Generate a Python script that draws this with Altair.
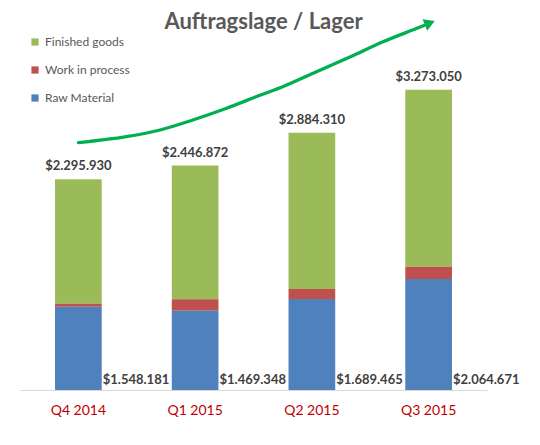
import altair as alt
import pandas as pd

# ================== DATA ==================

quarters = ["Q4 2014", "Q1 2015", "Q2 2015", "Q3 2015"]
series = ["Finished goods", "Work in process", "Raw Material"]
series_colors = ["#9BBB59", "#C0504D", "#4F81BD"]
stack_rank = [2, 1, 0]  # raw material sits on the baseline

raw_material = [908000, 864000, 992000, 1210000]
work_in_process = [33000, 124000, 109000, 134000]
finished_goods = [1355000, 1459000, 1704000, 1929000]

total_labels = [2295930, 2446872, 2884310, 3273050]
raw_labels = [1548181, 1469348, 1689465, 2064671]

# trend arrow, x in quarter units (0 = first bar centre), y in dollars
trend_x = [0.0, 0.41, 0.70, 0.98, 1.27, 1.56, 1.75, 2.04, 2.33, 2.61, 2.90, 2.96]
trend_y = [2695600, 2761000, 2834000, 2943000, 3070500, 3215500,
           3306000, 3469500, 3633000, 3796500, 3942500, 3973000]
arrow_tip_x = [3.01]
arrow_tip_y = [4000000]

# ================== STYLES ==================

FONT = "Lato"
TEXT_DARK = "#404040"
TEXT_GREY = "#595959"
TREND_GREEN = "#00B050"
Y_MAX = 3815000


def money(v):
    return "$" + f"{v:,}".replace(",", ".")


# ================== TABLES ==================

rows = []
for i, q in enumerate(quarters):
    for name, rank, values in zip(series, stack_rank,
                                  [finished_goods, work_in_process, raw_material]):
        rows.append({"quarter": q, "series": name, "rank": rank, "value": values[i]})
bars_df = pd.DataFrame(rows)

labels_df = pd.DataFrame({
    "quarter": quarters,
    "total": [a + b + c for a, b, c in zip(raw_material, work_in_process, finished_goods)],
    "total_text": [money(v) for v in total_labels],
    "raw_text": [money(v) for v in raw_labels],
})

trend_df = pd.DataFrame({"u": trend_x, "v": trend_y})
tip_df = pd.DataFrame({"u": arrow_tip_x, "v": arrow_tip_y})

# ================== CHART ==================

x_band = alt.X(
    "quarter:N",
    sort=quarters,
    title=None,
    scale=alt.Scale(paddingInner=0.6, paddingOuter=0.3),
    axis=alt.Axis(
        labelAngle=0,
        labelFont=FONT,
        labelFontSize=14,
        labelColor="#C00000",
        labelPadding=13,
        ticks=False,
        domainColor="#D9D9D9",
        domainWidth=1.2,
        grid=False,
    ),
)
y_scale = alt.Scale(domain=[0, Y_MAX], nice=False, zero=True)
u_scale = alt.Scale(domain=[-0.5, 3.5], nice=False, zero=False)

bars = (
    alt.Chart(bars_df)
    .mark_bar()
    .encode(
        x=x_band,
        y=alt.Y("value:Q", stack="zero", scale=y_scale, axis=None),
        color=alt.Color(
            "series:N",
            scale=alt.Scale(domain=series, range=series_colors),
            legend=alt.Legend(
                title=None,
                orient="none",
                legendX=9,
                legendY=-4,
                symbolType="square",
                symbolSize=52,
                symbolStrokeWidth=0,
                labelFont=FONT,
                labelFontSize=12,
                labelColor=TEXT_GREY,
                labelOffset=4,
                rowPadding=16,
                padding=0,
            ),
        ),
        order=alt.Order("rank:Q", sort="ascending"),
    )
)

total_text = (
    alt.Chart(labels_df)
    .mark_text(font=FONT, fontSize=13, fontWeight="bold", color=TEXT_DARK,
               baseline="bottom", dy=-6)
    .encode(
        x=alt.X("quarter:N", sort=quarters),
        y=alt.Y("total:Q", scale=y_scale),
        text="total_text:N",
    )
)

raw_text = (
    alt.Chart(labels_df)
    .mark_text(font=FONT, fontSize=13, fontWeight="bold", color=TEXT_DARK,
               align="left", baseline="bottom", dx=1, dy=-3)
    .encode(
        x=alt.X("quarter:N", sort=quarters, bandPosition=1),
        y=alt.YDatum(0),
        text="raw_text:N",
    )
)

trend_line = (
    alt.Chart(trend_df)
    .mark_line(color=TREND_GREEN, strokeWidth=3.3, interpolate="monotone", strokeCap="round")
    .encode(
        x=alt.X("u:Q", scale=u_scale, axis=None),
        y=alt.Y("v:Q", scale=y_scale),
    )
)

trend_tip = (
    alt.Chart(tip_df)
    .mark_point(shape="triangle-right", filled=True, color=TREND_GREEN, opacity=1,
                size=150, angle=338)
    .encode(
        x=alt.X("u:Q", scale=u_scale, axis=None),
        y=alt.Y("v:Q", scale=y_scale),
    )
)

bar_layer = alt.layer(bars, total_text, raw_text)
arrow_layer = alt.layer(trend_line, trend_tip)

chart = (
    alt.layer(bar_layer, arrow_layer)
    .resolve_scale(x="independent")
    .properties(
        width=467,
        height=350,
        autosize=alt.AutoSizeParams(type="none"),
        padding={"left": 12, "top": 32, "right": 45, "bottom": 47},
        title=alt.TitleParams(
            "Auftragslage / Lager",
            font=FONT,
            fontSize=22,
            fontWeight="bold",
            color=TEXT_GREY,
            anchor="middle",
            dx=10,
            offset=-15,
        ),
    )
    .configure(background="white")
    .configure_view(stroke=None)
)

chart.save("out.html", embed_options={"renderer": "svg", "actions": False})
